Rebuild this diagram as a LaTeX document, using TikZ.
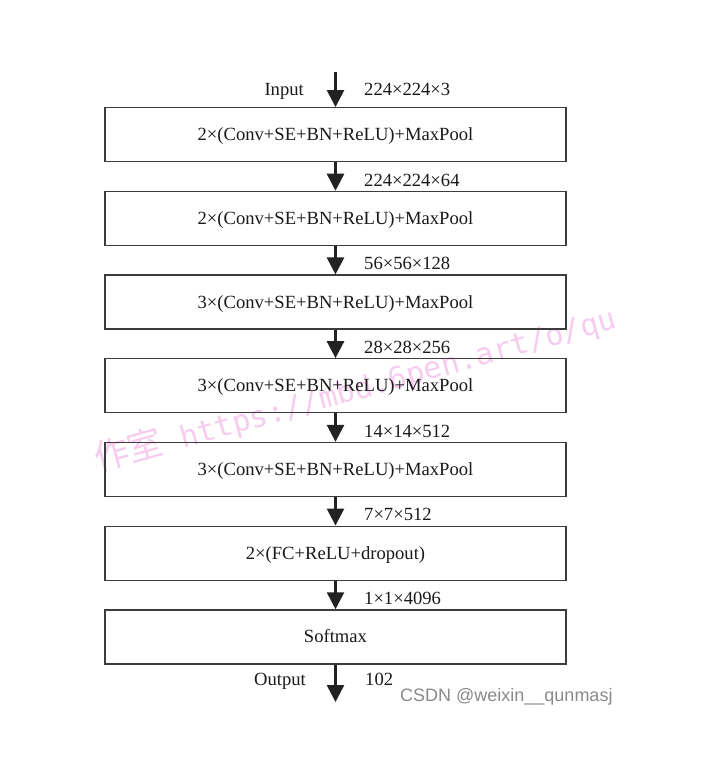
\documentclass[tikz,border=0pt]{standalone}
\usepackage{fontspec}
\setmainfont{Liberation Serif}
\newfontfamily\cjkwm{Noto Sans CJK SC}
\newfontfamily\monowm{DejaVu Sans Mono}
\newfontfamily\sanswm{Liberation Sans}
\usetikzlibrary{arrows.meta}
\definecolor{boxline}{HTML}{3C3C3C}
\definecolor{arrowc}{HTML}{222222}
\definecolor{txt}{HTML}{1A1A1A}
\definecolor{wmpink}{HTML}{F6CDEF}
\definecolor{wmgray}{HTML}{8A8A8A}
\begin{document}
\begin{tikzpicture}[x=1pt,y=-1pt,
  layer/.style={draw=boxline, line width=1.3pt, minimum width=461pt, minimum height=54pt,
    inner sep=0pt, text height=12pt, text depth=0pt, text=txt,
    font=\fontsize{18.6}{22}\selectfont},
  flow/.style={draw=arrowc, line width=2.6pt, -{Triangle[width=17pt,length=17pt]}},
  dimlabel/.style={inner sep=0pt, text=txt, font=\fontsize{18.6}{22}\selectfont},
]
\useasboundingbox (0,0) rectangle (710,778);
\fill[white] (0,0) rectangle (710,778);

% watermark
\node[rotate=15.5, anchor=base west, inner sep=0pt, text=wmpink] (wm) at (98,472)
  {{\cjkwm\fontsize{35}{35}\selectfont 作室}{\monowm\fontsize{30}{30}\selectfont\ https://mbd.6pen.art/o/qu}};

% layers
\node[layer] (b1) at (335.5,134.7) {2×(Conv+SE+BN+ReLU)+MaxPool};
\node[layer] (b2) at (335.5,218.4) {2×(Conv+SE+BN+ReLU)+MaxPool};
\node[layer] (b3) at (335.5,302.1) {3×(Conv+SE+BN+ReLU)+MaxPool};
\node[layer] (b4) at (335.5,385.8) {3×(Conv+SE+BN+ReLU)+MaxPool};
\node[layer] (b5) at (335.5,469.5) {3×(Conv+SE+BN+ReLU)+MaxPool};
\node[layer] (b6) at (335.5,553.2) {2×(FC+ReLU+dropout)};
\node[layer] (b7) at (335.5,636.9) {Softmax};

\coordinate (in) at (335.5,72.3);
\coordinate (out) at (335.5,702);

% connectors
\draw[flow] (in) -- (b1.north);
\draw[flow] (b1.south) -- (b2.north);
\draw[flow] (b2.south) -- (b3.north);
\draw[flow] (b3.south) -- (b4.north);
\draw[flow] (b4.south) -- (b5.north);
\draw[flow] (b5.south) -- (b6.north);
\draw[flow] (b6.south) -- (b7.north);
\draw[flow] (b7.south) -- (out);

% labels
\node[dimlabel, anchor=base east] (lin) at (304,95.7) {Input};
\node[dimlabel, anchor=base west] (d0) at (364,95.7) {224×224×3};
\node[dimlabel, anchor=base west] (d1) at (364,186.1) {224×224×64};
\node[dimlabel, anchor=base west] (d2) at (364,269.8) {56×56×128};
\node[dimlabel, anchor=base west] (d3) at (364,353.5) {28×28×256};
\node[dimlabel, anchor=base west] (d4) at (364,437.2) {14×14×512};
\node[dimlabel, anchor=base west] (d5) at (364,520.9) {7×7×512};
\node[dimlabel, anchor=base west] (d6) at (364,604.6) {1×1×4096};
\node[dimlabel, anchor=base east] (lout) at (306,685) {Output};
\node[dimlabel, anchor=base west] (d7) at (365,685) {102};

% csdn mark
\node[anchor=base west, inner sep=0pt, text=wmgray, font=\sanswm\fontsize{18}{18}\selectfont] (csdn) at (400,701) {CSDN @weixin\_\_qunmasj};
\end{tikzpicture}
\end{document}
